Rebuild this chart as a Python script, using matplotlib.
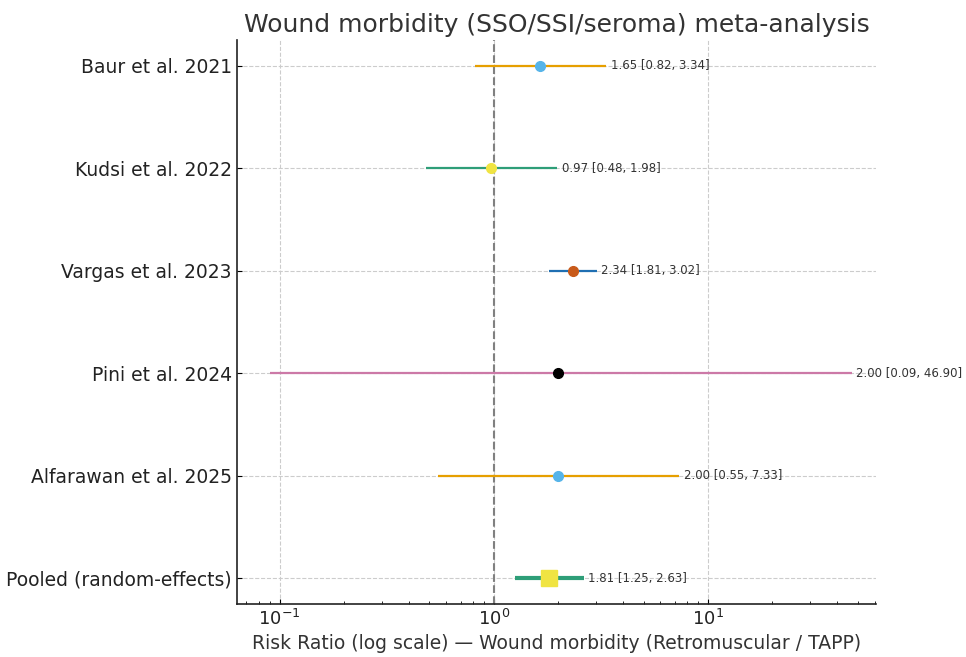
import numpy as np
import matplotlib
matplotlib.use("Agg")
import matplotlib.pyplot as plt

studies = ["Baur et al. 2021", "Kudsi et al. 2022", "Vargas et al. 2023",
           "Pini et al. 2024", "Alfarawan et al. 2025", "Pooled (random-effects)"]
rr = [1.65, 0.97, 2.34, 2.00, 2.00, 1.81]
lo = [0.82, 0.48, 1.81, 0.09, 0.55, 1.25]
hi = [3.34, 1.98, 3.02, 46.90, 7.33, 2.63]

line_colors = ["#E69F00", "#2E9E78", "#1F6FB2", "#CC79A7", "#E69F00", "#2E9E78"]
point_colors = ["#56B4E9", "#F0E442", "#C85A1A", "#000000", "#56B4E9", "#F0E442"]

fig = plt.figure(figsize=(9.66, 6.57), dpi=100)
ax = fig.add_axes([0.245, 0.081, 0.662, 0.858])

n = len(studies)
ypos = np.arange(n)[::-1]

for i in range(n):
    pooled = i == n - 1
    ax.plot([lo[i], hi[i]], [ypos[i], ypos[i]], color=line_colors[i],
            lw=3 if pooled else 1.6, solid_capstyle="butt", zorder=2)
    ax.plot(rr[i], ypos[i], marker="s" if pooled else "o",
            ms=11 if pooled else 7, color=point_colors[i], zorder=3)
    ax.text(hi[i] * 1.05, ypos[i], f"{rr[i]:.2f} [{lo[i]:.2f}, {hi[i]:.2f}]",
            va="center", ha="left", fontsize=8.5, color="#333333")

ax.axvline(1.0, color="gray", ls="--", lw=1.5, zorder=1)
ax.set_xscale("log")
ax.set_xlim(min(lo) * 0.7, max(hi) * 1.3)
ax.set_yticks(ypos)
ax.set_yticklabels(studies, fontsize=13.5, color="#222222")
ax.tick_params(axis="x", labelsize=13, labelcolor="#222222")
ax.tick_params(which="both", direction="in")
ax.grid(True, ls="--", color="#cccccc", lw=0.8)
ax.set_axisbelow(True)
for s in ["top", "right"]:
    ax.spines[s].set_visible(False)
ax.spines["left"].set_linewidth(1.2)
ax.spines["bottom"].set_linewidth(1.2)
ax.spines["left"].set_color("#222222")
ax.spines["bottom"].set_color("#222222")

ax.set_xlabel("Risk Ratio (log scale) \u2014 Wound morbidity (Retromuscular / TAPP)",
              fontsize=13.5, color="#333333")
ax.set_title("Wound morbidity (SSO/SSI/seroma) meta-analysis", fontsize=18, color="#333333")

fig.savefig("out.png", dpi=100)
